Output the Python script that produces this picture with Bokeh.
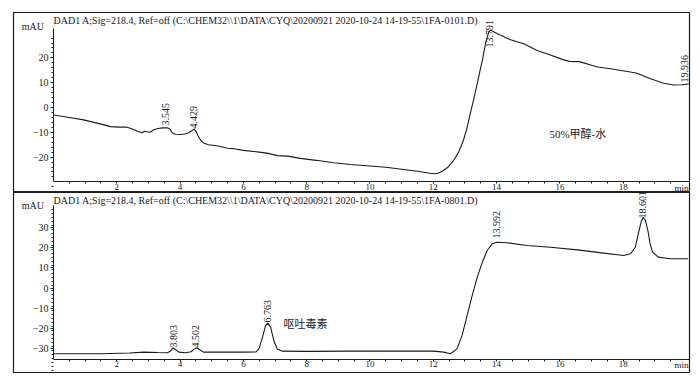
import numpy as np
from bokeh.plotting import figure
from bokeh.layouts import column
from bokeh.models import LinearAxis, FixedTicker, Range1d, Label, ColumnDataSource
from bokeh.core.properties import value
from bokeh.embed import file_html
from bokeh.resources import INLINE

# ---------------- data ----------------
top_t = [0.0, 0.5, 0.95, 1.48, 1.8, 2.1, 2.3, 2.45, 2.64, 2.8, 2.88, 2.95, 3.05, 3.17, 3.3, 3.45,
         3.6, 3.68, 3.75, 3.85, 4.0, 4.15, 4.27, 4.38, 4.44, 4.5, 4.57, 4.65, 4.75, 4.9, 5.2, 5.5,
         5.7, 6.0, 6.5, 6.75, 7.07, 7.4, 7.8, 8.3, 8.85, 9.38, 10.0, 10.5, 11.0, 11.5, 11.8, 12.0,
         12.15, 12.3, 12.45, 12.64, 12.8, 12.95, 13.06, 13.17, 13.28, 13.39, 13.47, 13.55, 13.65,
         13.75, 13.81, 13.9, 14.02, 14.2, 14.44, 14.86, 15.28, 15.7, 16.12, 16.3, 16.6, 16.75, 17.0,
         17.19, 17.6, 18.13, 18.44, 18.65, 18.86, 19.28, 19.6, 19.85, 20.07]
top_mau = [-3.0, -4.0, -5.0, -6.6, -7.7, -7.9, -7.9, -8.5, -9.5, -10.2, -9.6, -9.8, -10.0, -9.0, -8.5, -8.2,
           -8.2, -8.8, -10.2, -10.8, -10.9, -10.7, -10.2, -9.3, -8.6, -9.6, -11.5, -13.2, -14.4, -15.0, -15.5, -16.4,
           -16.6, -17.3, -18.0, -18.4, -19.4, -19.6, -20.5, -21.3, -22.3, -23.0, -23.6, -24.1, -24.9, -25.7, -26.3, -26.7,
           -26.5, -25.6, -24.2, -21.4, -18.0, -13.3, -8.5, -2.4, 3.5, 9.7, 14.5, 19.0, 25.8,
           30.4, 31.3, 30.6, 29.7, 28.7, 27.3, 25.7, 23.0, 21.2, 19.2, 18.6, 18.5, 18.0, 17.0,
           16.3, 15.6, 14.5, 13.8, 12.7, 11.6, 9.8, 9.1, 9.2, 9.5]

bot_t = [0.0, 1.5, 2.4, 2.85, 3.3, 3.6, 3.7, 3.78, 3.86, 3.96, 4.17, 4.35, 4.44, 4.52, 4.62, 4.74,
         5.2, 6.0, 6.4, 6.49, 6.59, 6.7, 6.77, 6.86, 6.96, 7.07, 7.23, 8.0, 9.4, 12.0, 12.33, 12.54,
         12.75, 12.91, 13.07, 13.23, 13.39, 13.55, 13.7, 13.86, 14.02, 14.34, 14.97, 15.7, 16.55,
         17.39, 18.02, 18.23, 18.38, 18.48, 18.57, 18.63, 18.7, 18.78, 18.85, 18.93, 19.11, 19.48, 20.05]
bot_mau = [-32.6, -32.6, -32.2, -31.8, -32.0, -32.1, -31.2, -29.7, -30.6, -31.8, -32.1, -31.6, -30.3, -29.7, -30.6, -31.8,
           -31.8, -31.8, -31.7, -30.2, -25.2, -18.6, -17.4, -19.4, -26.0, -30.2, -31.3, -31.4, -31.3, -31.3, -31.8, -32.6,
           -30.2, -23.5, -13.6, -3.7, 5.4, 12.8, 18.6, 21.9, 22.7, 22.4, 21.1, 20.2, 18.9,
           17.3, 16.1, 17.0, 20.2, 26.9, 33.0, 35.0, 33.6, 28.5, 22.0, 17.8, 15.3, 14.5, 14.5]

top_peak_text = ["3.545", "4.429", "13.791", "19.936"]
top_peak_t = [3.545, 4.429, 13.791, 19.936]
top_peak_y = [-7.3, -8.5, 24.2, 10.1]

bot_peak_text = ["3.803", "4.502", "6.763", "13.992", "18.601"]
bot_peak_t = [3.803, 4.502, 6.763, 13.992, 18.601]
bot_peak_y = [-29.5, -29.5, -17.1, 24.5, 34.5]

x_major = [2, 4, 6, 8, 10, 12, 14, 16, 18]
top_y_major = [-20, -10, 0, 10, 20]
bot_y_major = [-30, -20, -10, 0, 10, 20, 30]

top_title = r"DAD1 A;Sig=218.4, Ref=off  (C:\CHEM32\\1\DATA\CYQ\20200921 2020-10-24 14-19-55\1FA-0101.D)"
bot_title = r"DAD1 A;Sig=218.4, Ref=off  (C:\CHEM32\\1\DATA\CYQ\20200921 2020-10-24 14-19-55\1FA-0801.D)"
top_note = "50%甲醇-水"
bot_note = "呕吐毒素"

SERIF = "Liberation Serif"
CJK = "'Liberation Serif', 'Noto Sans CJK SC'"
INK = "#1a1a1a"


def minus(v):
    return ("\u2212" + str(abs(v))) if v < 0 else str(v)


def panel(t, y, yr, xaxis_at, yaxis_top, y_major, peak_t, peak_y, peak_text,
          title, note, note_xy, mau_y, title_y, mb_top, mb_bottom):
    p = figure(width=692, height=180 + mb_top + mb_bottom,
               x_range=Range1d(-1.264, 20.095), y_range=Range1d(*yr),
               x_axis_location=None, y_axis_location=None,
               toolbar_location=None, output_backend="svg",
               min_border_left=13, min_border_right=3,
               min_border_top=mb_top, min_border_bottom=mb_bottom)
    p.grid.visible = False
    p.outline_line_color = INK
    p.outline_line_width = 1.2
    p.background_fill_color = "white"
    p.border_fill_color = "white"

    xax = LinearAxis(fixed_location=xaxis_at, bounds=(0, 20.095),
                     ticker=FixedTicker(ticks=x_major,
                                        minor_ticks=[m for m in np.arange(0.5, 20.0, 0.5) if m % 2 != 0]))
    xax.major_label_text_font = SERIF
    xax.major_label_text_font_size = "9px"
    xax.major_label_text_color = INK
    xax.major_label_standoff = 0
    xax.major_tick_out = 2
    xax.major_tick_in = 0
    xax.minor_tick_out = 2
    xax.minor_tick_in = 0
    xax.axis_line_color = INK
    xax.major_tick_line_color = INK
    xax.minor_tick_line_color = INK
    p.add_layout(xax, "below")

    yminor = [m for m in range(int(np.ceil(yr[0])), int(yaxis_top) + 1, 2) if m % 10 != 0]
    yax = LinearAxis(fixed_location=0, bounds=(xaxis_at, yaxis_top),
                     ticker=FixedTicker(ticks=y_major, minor_ticks=yminor))
    yax.major_label_overrides = {v: minus(v) for v in y_major}
    yax.major_label_text_font = SERIF
    yax.major_label_text_font_size = "10px"
    yax.major_label_text_color = INK
    yax.major_label_standoff = 2
    yax.major_tick_out = 3
    yax.major_tick_in = 0
    yax.minor_tick_out = 2
    yax.minor_tick_in = 0
    yax.axis_line_color = INK
    yax.major_tick_line_color = INK
    yax.minor_tick_line_color = INK
    p.add_layout(yax, "left")

    p.line(t, y, line_color=INK, line_width=1.1)

    src = ColumnDataSource(dict(x=peak_t, y=peak_y, text=peak_text))
    p.text(x="x", y="y", text="text", source=src, angle=np.pi / 2,
           text_align="left", text_baseline="middle",
           text_font=value(SERIF), text_font_size="10px", text_color=INK)

    p.add_layout(Label(x=0.0, y=title_y, text=title, text_font=SERIF, text_font_size="10px",
                       text_color=INK, text_baseline="middle", text_align="left"))
    p.add_layout(Label(x=-0.3, y=mau_y, text="mAU", text_font=SERIF, text_font_size="10px",
                       text_color=INK, text_baseline="middle", text_align="right"))
    p.add_layout(Label(x=20.06, y=xaxis_at, y_offset=-1, text="min", text_font=SERIF,
                       text_font_size="9px", text_color=INK, text_baseline="top", text_align="right"))
    p.add_layout(Label(x=note_xy[0], y=note_xy[1], text=note, text_font=CJK, text_font_size="11px",
                       text_color=INK, text_baseline="middle", text_align="left"))
    return p


p1 = panel(top_t, top_mau, (-34.27, 38.3), -30, 31.9, top_y_major,
           top_peak_t, top_peak_y, top_peak_text, top_title, top_note, (15.67, -10.5),
           32.7, 35.1, 12, 0)
p2 = panel(bot_t, bot_mau, (-41.89, 47.35), -35.4, 40.9, bot_y_major,
           bot_peak_t, bot_peak_y, bot_peak_text, bot_title, bot_note, (7.27, -17.6),
           40.9, 43.4, 0, 5)

layout = column(p1, p2, spacing=0)
open("out.html", "w").write(file_html(layout, INLINE))
